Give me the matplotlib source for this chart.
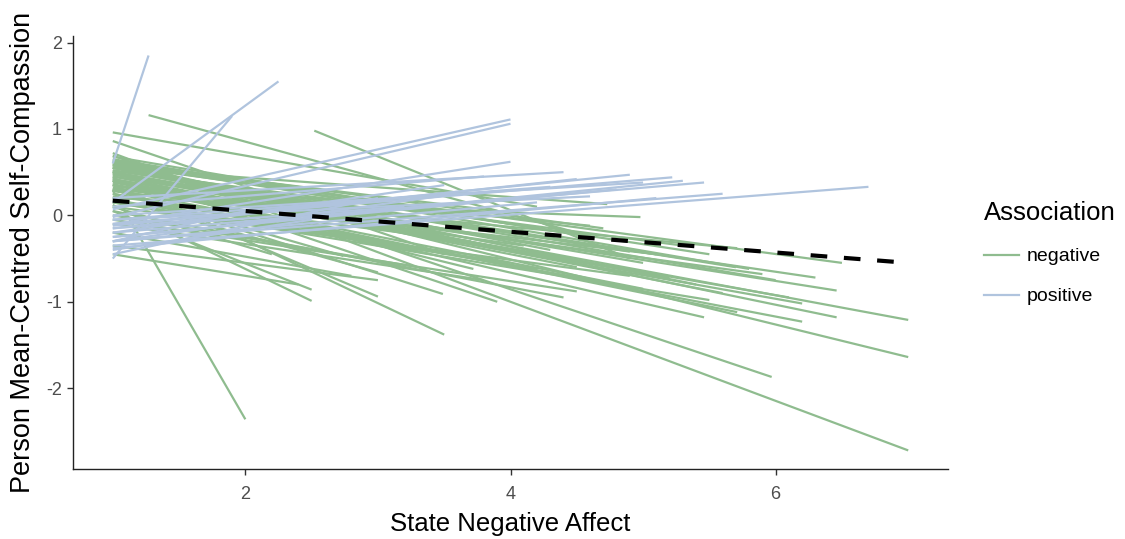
import matplotlib
matplotlib.use("Agg")
import matplotlib.pyplot as plt
from matplotlib.lines import Line2D

plt.rcParams['font.family'] = ['Liberation Sans', 'DejaVu Sans']
plt.rcParams['axes.unicode_minus'] = False

# ---- data: per-person fitted lines (start x, end x, start y, end y) ----
neg_x0 = [1, 1, 1, 1, 1, 1, 1, 1, 1, 1, 1, 1, 1, 1, 1, 1, 1, 1, 1, 1,
          1, 1, 1, 1.27, 1, 1, 2.52, 1, 1, 1, 1, 1, 1, 1, 1, 1, 1, 1, 1, 1,
          1, 1, 1, 1, 1, 1, 1, 1, 1, 1, 1, 1, 1, 1.5, 1, 1, 1, 1, 1, 1,
          1, 1, 1, 1, 1, 1, 1, 1, 1, 1]
neg_x1 = [7, 7, 7, 5.97, 6.46, 6.46, 6.2, 6.2, 5.71, 5.46, 5.71, 4.98, 4.73, 2.0, 3.5, 3.49, 2.5, 2.5, 3.0, 3.0,
          2.74, 3.72, 3.9, 4.5, 4.2, 3.5, 4.9, 5.5, 5.0, 4.5, 6.0, 5.2, 4.8, 4.0, 3.6, 4.3, 5.6, 4.9, 3.3, 3.8,
          2.8, 4.6, 5.3, 6.1, 3.2, 2.6, 4.1, 5.9, 3.0, 2.4, 4.4, 5.1, 3.9, 4.6, 6.5, 4.7, 3.4, 2.2, 5.5, 4.5,
          5.8, 5.4, 4.9, 6.3, 4.4, 5.0, 3.7, 4.2, 5.7, 4.0]
neg_y0 = [0.72, 0.62, 0.50, 0.69, 0.45, 0.55, 0.40, 0.30, 0.35, 0.40, 0.30, 0.20, 0.55, 0.29, 0.44, 0.30, 0.05, 0.12, 0.20, 0.35,
          0.30, 0.40, 0.50, 1.16, 0.96, 0.86, 0.98, 0.60, 0.50, 0.45, 0.55, 0.38, 0.25, 0.15, 0.62, 0.58, 0.48, 0.10, 0.00, -0.10,
          -0.20, 0.65, 0.52, 0.42, 0.50, 0.40, 0.32, 0.35, -0.35, -0.45, 0.05, 0.28, 0.60, 0.35, 0.58, 0.62, 0.25, 0.10, 0.15, -0.05,
          0.64, 0.58, 0.52, 0.47, 0.42, 0.36, 0.22, 0.18, 0.55, 0.68]
neg_y1 = [-2.72, -1.64, -1.21, -1.87, -0.87, -1.18, -1.02, -1.23, -1.12, -1.18, -0.38, -0.02, 0.13, -2.36, -1.38, -0.91, -0.86, -0.99, -0.66, -0.94,
          -0.47, -0.62, -1.00, -0.20, 0.10, -0.45, -0.50, -0.45, -0.55, -0.60, -0.75, -0.72, -0.80, -0.55, -0.30, -0.40, -0.90, -0.70, -0.60, -0.75,
          -0.70, -0.25, -0.35, -0.95, -0.15, -0.20, -0.35, -0.68, -0.75, -0.80, -0.95, -0.45, 0.05, -0.12, -0.55, -0.15, -0.45, -0.45, -0.98, -0.88,
          -0.62, -0.80, -0.42, -0.72, -0.50, -0.85, -0.30, -0.62, -0.60, -0.10]

pos_x0 = [1, 1, 1, 1, 1, 1, 1, 1, 1, 1, 1, 1, 1, 1, 1, 1, 1, 1, 1, 1, 1, 1, 1, 1, 1, 1, 1]
pos_x1 = [1.27, 2.25, 1.9, 4.0, 4.0, 4.0, 6.7, 5.46, 5.22, 5.0, 4.5, 4.8, 5.6, 3.5, 3.0, 4.2, 2.5, 3.8, 4.6, 3.2, 2.0, 5.3, 4.4,
          4.9, 4.3, 3.6, 5.1]
pos_y0 = [0.60, 0.15, -0.50, 0.07, -0.02, -0.10, -0.35, -0.20, -0.10, 0.00, -0.15, -0.25, -0.30, -0.20, -0.45, -0.30, -0.40, 0.10, -0.05, -0.15, -0.30, -0.25, 0.20,
          -0.12, -0.05, -0.30, -0.38]
pos_y1 = [1.85, 1.55, 1.15, 1.11, 1.06, 0.62, 0.33, 0.38, 0.44, 0.38, 0.42, 0.30, 0.25, 0.35, 0.20, 0.15, -0.05, 0.45, 0.22, 0.10, 0.05, 0.40, 0.50,
          0.47, 0.33, 0.25, 0.20]

# overall fixed-effect line
fixed_x = [1, 7]
fixed_y = [0.17, -0.55]

groups = ["negative", "positive"]
colors = {"negative": "#8FBC8F", "positive": "#B0C4DE"}

fig = plt.figure(figsize=(11.25, 5.39), dpi=100)
ax = fig.add_axes([73 / 1125, 70 / 539, 875 / 1125, 433.4 / 539])

for a, b, c, d in zip(neg_x0, neg_x1, neg_y0, neg_y1):
    ax.plot([a, b], [c, d], color=colors["negative"], lw=1.6, solid_capstyle='butt')
for a, b, c, d in zip(pos_x0, pos_x1, pos_y0, pos_y1):
    ax.plot([a, b], [c, d], color=colors["positive"], lw=1.6, solid_capstyle='butt')

ax.plot(fixed_x, fixed_y, color="black", lw=3.0, ls=(0, (4.0, 4.0)))

ax.set_xlim(0.7, 7.3)
ax.set_ylim(-2.935, 2.08)
ax.set_xticks([2, 4, 6])
ax.set_yticks([-2, -1, 0, 1, 2])
for s in ["top", "right"]:
    ax.spines[s].set_visible(False)
for s in ["left", "bottom"]:
    ax.spines[s].set_color("#222222")
    ax.spines[s].set_linewidth(1.0)
ax.tick_params(axis='both', colors="#333333", labelcolor="#4D4D4D", labelsize=13,
               length=4, width=1.0, direction='out')
ax.tick_params(axis='x', pad=8)
ax.tick_params(axis='y', pad=4)

ax.set_xlabel("State Negative Affect", fontsize=18.5, color="black", labelpad=7)
ax.set_ylabel("Person Mean-Centred Self-Compassion", fontsize=19.5, color="black", labelpad=7)

handles = [Line2D([0], [0], color=colors[g], lw=1.6) for g in groups]
leg = fig.legend(handles, groups, title="Association", loc="upper left",
                 bbox_to_anchor=(966 / 1125, 1 - 184 / 539), frameon=False,
                 fontsize=14, title_fontsize=18.5, handlelength=1.8,
                 labelspacing=1.15, handletextpad=0.4)
leg._legend_box.align = "left"

fig.savefig("out.png", dpi=100)
